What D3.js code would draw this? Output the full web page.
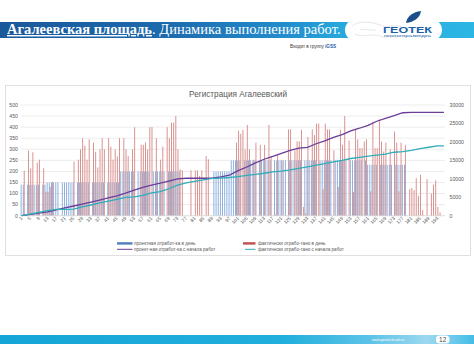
<!DOCTYPE html>
<html><head><meta charset="utf-8">
<script src="https://cdn.jsdelivr.net/npm/d3@7"></script>
<style>
html,body{margin:0;padding:0;background:#fff;}
svg{display:block;}
</style></head>
<body>
<svg id="c" width="474" height="355"></svg>
<script>
// ---------- DATA ----------
const categories = [1,2,3,4,5,6,7,8,9,10,11,12,13,14,15,16,17,18,19,20,21,22,23,24,25,26,27,28,29,30,31,32,33,34,35,36,37,38,39,40,41,42,43,44,45,46,47,48,49,50,51,52,53,54,55,56,57,58,59,60,61,62,63,64,65,66,67,68,69,70,71,72,73,74,75,76,77,78,79,80,81,82,83,84,85,86,87,88,89,90,91,92,93,94,95,96,97,98,99,100,101,102,103,104,105,106,107,108,109,110,111,112,113,114,115,116,117,118,119,120,121,122,123,124,125,126,127,128,129,130,131,132,133,134,135,136,137,138,139,140,141,142,143,144,145,146,147,148,149,150,151,152,153,154,155,156,157,158,159,160,161,162,163,164,165,166,167,168,169,170,171,172,173,174,175,176,177,178,179,180,181,182,183,184,185,186,187,188,189,190,191,192,193,194,195,196];

// проектная отработка в день (left axis)
const plannedDaily = [
140,140,0,140,140,140,140,140,140,0,140,140,
150,150,150,150,150,150,0,150,150,150,150,150,150,0,150,150,150,150,150,150,0,150,150,150,150,150,150,0,150,150,150,150,150,150,
200,200,200,200,200,200,200,0,200,200,200,200,200,200,0,200,200,200,200,200,200,0,200,200,200,200,200,200,
0,0,0,0,0,0,0,0,0,0,0,0,0,0,0,
200,200,200,200,200,200,200,200,
250,250,250,250,250,0,250,250,250,250,250,250,0,250,250,250,250,250,250,0,250,250,250,250,250,250,0,250,250,250,250,250,250,0,250,250,250,250,250,250,0,250,250,250,250,250,250,0,250,250,250,250,250,250,0,250,250,250,250,250,250,0,250,
230,230,230,230,230,0,230,230,230,230,230,230,0,230,230,230,230,230,
0,0,0,0,0,0,0,0,0,0,0,0,0,0,0,0,0,0];

// фактически отработано в день (left axis)
const actualDaily = [
0,203,0,294,214,287,0,240,253,0,214,108,108,131,154,
0,0,0,0,0,0,0,0,0,
244,0,253,300,350,316,253,345,0,330,289,218,300,350,300,0,350,312,253,300,267,350,0,350,300,270,0,300,400,0,0,320,320,330,300,400,400,0,350,0,253,312,0,400,350,420,420,450,300,210,205,0,0,0,205,0,205,205,180,205,0,270,255,
0,0,0,0,0,0,0,0,0,0,0,0,
330,384,370,388,300,410,300,0,253,330,0,320,0,320,0,410,270,0,5,275,0,250,0,0,390,390,0,295,336,336,388,40,10,355,0,390,365,416,416,0,120,416,390,390,0,295,0,130,388,320,450,0,340,0,107,390,345,305,305,335,345,0,110,425,305,305,435,335,290,330,0,300,0,380,330,110,330,0,320,0,120,125,115,170,90,185,25,0,165,0,100,140,160,40,15,0,0];

// cumulative series (right axis), read at the labelled categories
const cumCategories = [1,5,9,13,17,21,25,29,33,37,41,45,49,53,57,61,65,69,73,77,81,85,89,93,97,101,105,109,113,117,121,125,129,133,137,141,145,149,153,157,161,165,169,173,177,181,185,189,193,196];
const plannedCum = [0,350,700,1050,1550,2100,2630,3150,3700,4250,4850,5400,6100,6900,7700,8300,8800,9400,10000,10150,10150,10150,10150,10500,11000,12200,13200,14300,15300,16100,16900,17700,18300,18500,19500,20300,21200,22000,23000,23700,24500,25600,26400,27100,27900,28000,28000,28000,28000,28000];
const actualCum = [0,450,900,1400,1700,1700,1800,2400,2900,3450,3950,4450,4950,5100,5500,6200,6500,7300,8300,8900,9300,9700,10100,10200,10350,10600,10900,11200,11500,11900,12100,12400,12800,13250,13700,14100,14600,15000,15500,15800,16150,16400,16700,17200,17350,17700,18150,18550,18900,18900];

const xTickLabels = ["1","5","9","13","17","21","25","29","33","37","41","45","49","53","57","61","65","69","73","77","81","85","89","93","97","101","105","109","113","117","121","125","129","133","137","141","145","149","153","157","161","165","169","173","177","181","185","189","193"];
const leftTicks = [0,50,100,150,200,250,300,350,400,450,500];
const rightTicks = [0,5000,10000,15000,20000,25000,30000];

const chartTitle = "Регистрация Агалеевский";
const legendNames = ["проектная отработ-ка в день","фактически отрабо-тано в день","проект-ная отработ-ка с начала работ","фактически отрабо-тано с начала работ"];

// ---------- DRAW ----------
const svg = d3.select("#c");
const defs = svg.append("defs");

// header
const hg = defs.append("linearGradient").attr("id","hg").attr("x1","0").attr("x2","1");
[[0,"#1a589b"],[0.35,"#1c6aad"],[0.62,"#2390cf"],[0.72,"#28a8dd"],[1,"#2cb6e4"]].forEach(s=>hg.append("stop").attr("offset",s[0]).attr("stop-color",s[1]));
svg.append("rect").attr("x",0).attr("y",22).attr("width",474).attr("height",16).attr("fill","url(#hg)");
svg.append("rect").attr("x",345).attr("y",19).attr("width",97).attr("height",22).attr("rx",11).attr("fill","#fff");
// faint map sketch in logo
svg.append("path").attr("d","M352,26 C360,20 372,22 380,25 C388,28 395,24 402,27 M355,34 C363,38 372,33 380,36 C386,39 393,35 398,38 M360,30 C366,28 370,31 376,30")
  .attr("fill","none").attr("stroke","#d6d6d6").attr("stroke-width",0.6);
svg.append("path").attr("d","M406,23 C407,16 413,12 421,11 C420,18 414,22 406,23 Z").attr("fill","#1b4f8c");
svg.append("text").attr("x",383).attr("y",33.2).attr("textLength",49).attr("lengthAdjust","spacingAndGlyphs")
  .attr("font-family","Liberation Sans, Arial, sans-serif").attr("font-weight","bold").attr("font-size",8.5).attr("fill","#1b5fa8").text("ГЕОТЕК");
svg.append("text").attr("x",384).attr("y",36.6).attr("textLength",47).attr("lengthAdjust","spacingAndGlyphs")
  .attr("font-family","Liberation Sans, Arial, sans-serif").attr("font-size",2.6).attr("fill","#1b5fa8").text("геологоразведка");

const tt = svg.append("text").attr("x",7).attr("y",34).attr("font-family","Liberation Serif, Times New Roman, serif").attr("font-size",14.5).attr("fill","#fff");
tt.append("tspan").attr("font-weight","bold").attr("text-decoration","underline").text("Агалеевская площадь");
tt.append("tspan").text(". Динамика выполнения работ.");

const gt = svg.append("text").attr("x",290).attr("y",47.5).attr("font-family","Liberation Sans, Arial, sans-serif").attr("font-size",4.6).attr("fill","#333");
gt.append("tspan").text("Входит в группу ");
gt.append("tspan").attr("font-weight","bold").attr("fill","#1b5fa8").text("iGSS");

// chart frame
svg.append("rect").attr("x",5.5).attr("y",85.5).attr("width",465).attr("height",170).attr("fill","#fff").attr("stroke","#d9d9d9").attr("stroke-width",0.8);

svg.append("text").attr("x",238).attr("y",96.5).attr("text-anchor","middle")
  .attr("font-family","Liberation Sans, Arial, sans-serif").attr("font-size",8.2).attr("fill","#595959").text(chartTitle);

const x0 = 20.5, x1 = 445, yTop = 105, yBot = 215.7;
const x = d3.scaleBand().domain(categories).range([x0,x1]).paddingInner(0).paddingOuter(0);
const yL = d3.scaleLinear().domain([0,500]).range([yBot,yTop]);
const yR = d3.scaleLinear().domain([0,30000]).range([yBot,yTop]);
const bw = x.bandwidth();

// gridlines
svg.append("g").selectAll("line").data(leftTicks).join("line")
  .attr("x1",x0).attr("x2",x1).attr("y1",d=>yL(d)).attr("y2",d=>yL(d))
  .attr("stroke","#d9d9d9").attr("stroke-width",0.5);

// left axis labels
svg.append("g").selectAll("text").data(leftTicks).join("text")
  .attr("x",18).attr("y",d=>yL(d)+1.8).attr("text-anchor","end")
  .attr("font-family","Liberation Sans, Arial, sans-serif").attr("font-size",5.2).attr("fill","#595959").text(d=>d);
// right axis labels
svg.append("g").selectAll("text").data(rightTicks).join("text")
  .attr("x",449.5).attr("y",d=>yR(d)+1.8).attr("text-anchor","start")
  .attr("font-family","Liberation Sans, Arial, sans-serif").attr("font-size",5.2).attr("fill","#595959").text(d=>d);

// bars
const barW = bw*0.42;
svg.append("g").selectAll("rect").data(categories.map((c,i)=>({c,v:plannedDaily[i]})).filter(d=>d.v>0)).join("rect")
  .attr("x",d=>x(d.c)+bw*0.08).attr("width",barW)
  .attr("y",d=>yL(d.v)).attr("height",d=>yBot-yL(d.v)).attr("fill","#82a9dc");
svg.append("g").selectAll("rect").data(categories.map((c,i)=>({c,v:actualDaily[i]})).filter(d=>d.v>0)).join("rect")
  .attr("x",d=>x(d.c)+bw*0.08+barW).attr("width",barW)
  .attr("y",d=>yL(d.v)).attr("height",d=>yBot-yL(d.v)).attr("fill","#d68987");

// x axis line
svg.append("line").attr("x1",x0).attr("x2",x1).attr("y1",yBot).attr("y2",yBot).attr("stroke","#d9d9d9").attr("stroke-width",0.6);

// x labels
svg.append("g").selectAll("text").data(xTickLabels).join("text")
  .attr("transform",d=>`translate(${x(+d)+bw/2+1.2},${yBot+3}) rotate(-45)`)
  .attr("text-anchor","end")
  .attr("font-family","Liberation Sans, Arial, sans-serif").attr("font-size",4.8).attr("fill","#595959").text(d=>d);

// lines
const line = d3.line().x(d=>x(d[0])+bw/2).y(d=>yR(d[1]));
svg.append("path").datum(cumCategories.map((c,i)=>[c,plannedCum[i]])).attr("d",line)
  .attr("fill","none").attr("stroke","#6a3d98").attr("stroke-width",1.3);
svg.append("path").datum(cumCategories.map((c,i)=>[c,actualCum[i]])).attr("d",line)
  .attr("fill","none").attr("stroke","#2fadb9").attr("stroke-width",1.3);

// legend
const lf = "Liberation Sans, Arial, sans-serif";
svg.append("rect").attr("x",117).attr("y",242.2).attr("width",15.5).attr("height",2.4).attr("fill","#4f7fc0");
svg.append("text").attr("x",134).attr("y",244.9).attr("font-family",lf).attr("font-size",4.6).attr("fill","#595959").text(legendNames[0]);
svg.append("rect").attr("x",243).attr("y",242.2).attr("width",12.5).attr("height",2.4).attr("fill","#c0504d");
svg.append("text").attr("x",258).attr("y",244.9).attr("font-family",lf).attr("font-size",4.6).attr("fill","#595959").text(legendNames[1]);
svg.append("line").attr("x1",117).attr("x2",132.5).attr("y1",249.3).attr("y2",249.3).attr("stroke","#6a3d98").attr("stroke-width",1);
svg.append("text").attr("x",134).attr("y",250.9).attr("font-family",lf).attr("font-size",4.6).attr("fill","#595959").text(legendNames[2]);
svg.append("line").attr("x1",245).attr("x2",255.5).attr("y1",249.3).attr("y2",249.3).attr("stroke","#2fadb9").attr("stroke-width",1);
svg.append("text").attr("x",258).attr("y",250.9).attr("font-family",lf).attr("font-size",4.6).attr("fill","#595959").text(legendNames[3]);

// footer
const fg = defs.append("linearGradient").attr("id","fg").attr("x1","0").attr("x2","1");
[[0,"#15a5d6"],[0.6,"#21afdd"],[0.78,"#5ec2e8"],[0.9,"#9bd8f0"],[0.94,"#7ccdee"],[1,"#42bde6"]].forEach(s=>fg.append("stop").attr("offset",s[0]).attr("stop-color",s[1]));
svg.append("rect").attr("x",0).attr("y",335).attr("width",474).attr("height",9).attr("fill","url(#fg)");
svg.append("text").attr("x",372).attr("y",341).attr("font-family",lf).attr("font-size",3.6).attr("fill","#fff").text("www.geotechcom.ru");
svg.append("rect").attr("x",436).attr("y",335.5).attr("width",13.5).attr("height",8).attr("rx",3.5).attr("fill","#fff");
svg.append("text").attr("x",442.7).attr("y",342).attr("text-anchor","middle").attr("font-family",lf).attr("font-size",6.5).attr("fill","#444").text("12");
</script>
</body></html>
